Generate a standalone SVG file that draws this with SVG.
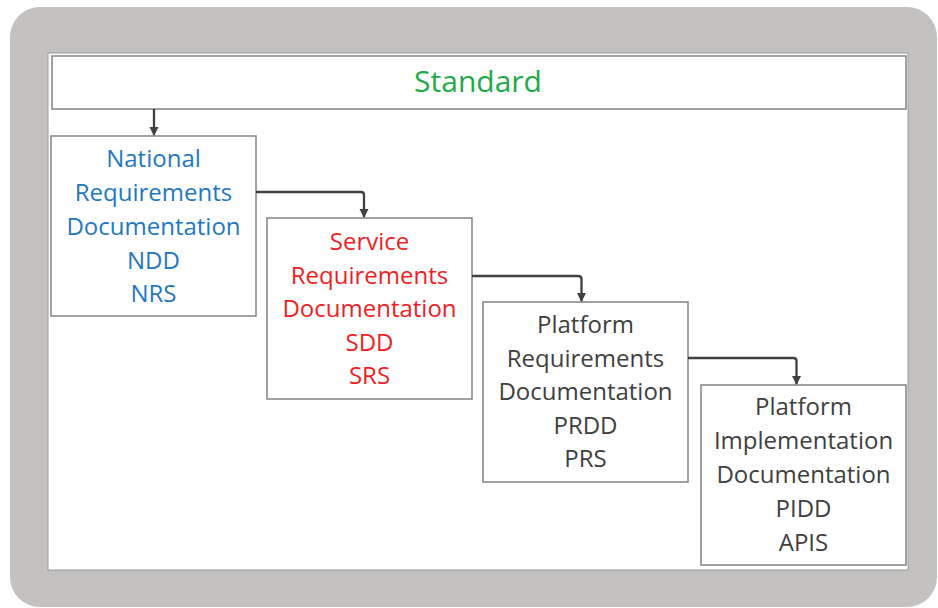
<svg xmlns="http://www.w3.org/2000/svg" width="938" height="608" viewBox="0 0 938 608">
<style>
.box{fill:#ffffff;stroke:#8a8a8a;stroke-width:1.6}
.t{font-family:"Open Sans","Liberation Sans",sans-serif;font-size:24px;text-anchor:middle}
.blue{fill:#1F78C1}
.red{fill:#F01E23}
.gray{fill:#404040}
.conn{fill:none;stroke:#404040;stroke-width:2.3;stroke-linejoin:round}
</style>
<defs>
<marker id="ah" markerWidth="10" markerHeight="10" refX="8" refY="4.5" orient="auto" markerUnits="userSpaceOnUse">
<path d="M0,0 L9,4.5 L0,9 Z" fill="#404040"/>
</marker>
</defs>
<rect x="10" y="7" width="927" height="600" rx="30" ry="30" fill="#C3C2C0"/>
<rect x="48" y="53" width="860" height="517" fill="#ffffff" stroke="#9a9a9a" stroke-width="1"/>
<g id="standard">
<rect class="box" x="52" y="56" width="854" height="53"/>
<text x="478" y="92" font-family="Open Sans, Liberation Sans, sans-serif" font-size="30" text-anchor="middle" fill="#22AA4A">Standard</text>
</g>
<g id="national">
<rect class="box" x="51" y="136" width="205" height="180"/>
<text class="t blue" x="153.5" y="167">National</text>
<text class="t blue" x="153.5" y="200.5">Requirements</text>
<text class="t blue" x="153.5" y="234.5">Documentation</text>
<text class="t blue" x="153.5" y="268.5">NDD</text>
<text class="t blue" x="153.5" y="302">NRS</text>
</g>
<g id="service">
<rect class="box" x="267" y="218" width="205" height="181"/>
<text class="t red" x="369.5" y="250">Service</text>
<text class="t red" x="369.5" y="283.5">Requirements</text>
<text class="t red" x="369.5" y="317">Documentation</text>
<text class="t red" x="369.5" y="350.5">SDD</text>
<text class="t red" x="369.5" y="384">SRS</text>
</g>
<g id="platform-req">
<rect class="box" x="483" y="302" width="205" height="180"/>
<text class="t gray" x="585.5" y="333">Platform</text>
<text class="t gray" x="585.5" y="366.5">Requirements</text>
<text class="t gray" x="585.5" y="400">Documentation</text>
<text class="t gray" x="585.5" y="433.5">PRDD</text>
<text class="t gray" x="585.5" y="467">PRS</text>
</g>
<g id="platform-impl">
<rect class="box" x="701" y="385" width="205" height="180"/>
<text class="t gray" x="803.5" y="415">Platform</text>
<text class="t gray" x="803.5" y="449">Implementation</text>
<text class="t gray" x="803.5" y="483">Documentation</text>
<text class="t gray" x="803.5" y="517">PIDD</text>
<text class="t gray" x="803.5" y="551">APIS</text>
</g>
<g id="connectors">
<path class="conn" d="M154,109 L154,135" marker-end="url(#ah)"/>
<path class="conn" d="M256,192 L361,192 Q364,192 364,195 L364,217" marker-end="url(#ah)"/>
<path class="conn" d="M472,276 L578,276 Q581.5,276 581.5,279 L581.5,301" marker-end="url(#ah)"/>
<path class="conn" d="M688,358 L793.5,358 Q796.5,358 796.5,361 L796.5,384" marker-end="url(#ah)"/>
</g>
</svg>
